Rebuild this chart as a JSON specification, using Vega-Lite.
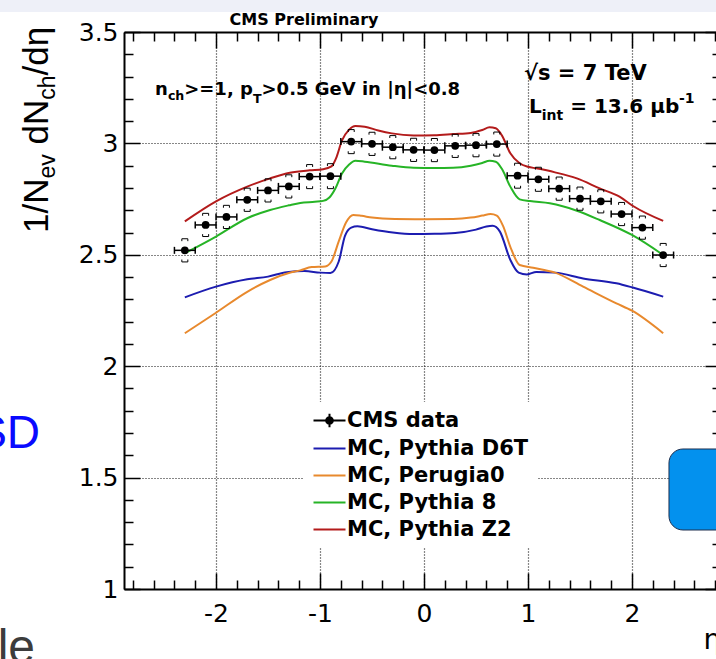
{
"$schema": "https://vega.github.io/schema/vega-lite/v6.json",
"width": 592,
"height": 557,
"autosize": "none",
"padding": {"left": 124, "top": 32, "right": 0, "bottom": 70},
"background": "white",
"config": {
  "view": {"stroke": null},
  "axis": {"domainColor": "black", "domainWidth": 2, "tickColor": "black", "tickWidth": 1.5, "labelColor": "black", "labelFont": "DejaVu Sans", "labelFontSize": 25, "labelOverlap": false, "labelFlush": false, "gridColor": "#111111", "gridDash": [1, 2], "gridWidth": 1.2}
},
"datasets": {
  "cms": [
    {"eta": -2.3, "lo": -2.4, "hi": -2.2, "y": 2.520, "shi": 2.572, "slo": 2.468},
    {"eta": -2.1, "lo": -2.2, "hi": -2.0, "y": 2.634, "shi": 2.686, "slo": 2.582},
    {"eta": -1.9, "lo": -2.0, "hi": -1.8, "y": 2.670, "shi": 2.722, "slo": 2.618},
    {"eta": -1.7, "lo": -1.8, "hi": -1.6, "y": 2.747, "shi": 2.799, "slo": 2.695},
    {"eta": -1.5, "lo": -1.6, "hi": -1.4, "y": 2.789, "shi": 2.841, "slo": 2.737},
    {"eta": -1.3, "lo": -1.4, "hi": -1.2, "y": 2.807, "shi": 2.859, "slo": 2.755},
    {"eta": -1.1, "lo": -1.2, "hi": -1.0, "y": 2.851, "shi": 2.905, "slo": 2.797},
    {"eta": -0.9, "lo": -1.0, "hi": -0.8, "y": 2.853, "shi": 2.909, "slo": 2.797},
    {"eta": -0.7, "lo": -0.8, "hi": -0.6, "y": 3.008, "shi": 3.062, "slo": 2.954},
    {"eta": -0.5, "lo": -0.6, "hi": -0.4, "y": 2.998, "shi": 3.050, "slo": 2.946},
    {"eta": -0.3, "lo": -0.4, "hi": -0.2, "y": 2.983, "shi": 3.035, "slo": 2.931},
    {"eta": -0.1, "lo": -0.2, "hi": 0.0, "y": 2.971, "shi": 3.023, "slo": 2.919},
    {"eta": 0.1, "lo": 0.0, "hi": 0.2, "y": 2.970, "shi": 3.022, "slo": 2.918},
    {"eta": 0.3, "lo": 0.2, "hi": 0.4, "y": 2.989, "shi": 3.041, "slo": 2.937},
    {"eta": 0.5, "lo": 0.4, "hi": 0.6, "y": 2.992, "shi": 3.044, "slo": 2.940},
    {"eta": 0.7, "lo": 0.6, "hi": 0.8, "y": 2.997, "shi": 3.051, "slo": 2.943},
    {"eta": 0.9, "lo": 0.8, "hi": 1.0, "y": 2.855, "shi": 2.911, "slo": 2.799},
    {"eta": 1.1, "lo": 1.0, "hi": 1.2, "y": 2.839, "shi": 2.893, "slo": 2.785},
    {"eta": 1.3, "lo": 1.2, "hi": 1.4, "y": 2.797, "shi": 2.849, "slo": 2.745},
    {"eta": 1.5, "lo": 1.4, "hi": 1.6, "y": 2.752, "shi": 2.804, "slo": 2.700},
    {"eta": 1.7, "lo": 1.6, "hi": 1.8, "y": 2.740, "shi": 2.792, "slo": 2.688},
    {"eta": 1.9, "lo": 1.8, "hi": 2.0, "y": 2.683, "shi": 2.735, "slo": 2.631},
    {"eta": 2.1, "lo": 2.0, "hi": 2.2, "y": 2.622, "shi": 2.674, "slo": 2.570},
    {"eta": 2.3, "lo": 2.2, "hi": 2.4, "y": 2.499, "shi": 2.551, "slo": 2.447}
  ],
  "curves": [
    {"series": "MC, Pythia D6T", "eta": -2.3, "v": 2.309},
    {"series": "MC, Pythia D6T", "eta": -2.0, "v": 2.357},
    {"series": "MC, Pythia D6T", "eta": -1.7, "v": 2.390},
    {"series": "MC, Pythia D6T", "eta": -1.5, "v": 2.402},
    {"series": "MC, Pythia D6T", "eta": -1.32, "v": 2.422},
    {"series": "MC, Pythia D6T", "eta": -1.15, "v": 2.427},
    {"series": "MC, Pythia D6T", "eta": -1.0, "v": 2.420},
    {"series": "MC, Pythia D6T", "eta": -0.9, "v": 2.418},
    {"series": "MC, Pythia D6T", "eta": -0.82, "v": 2.470},
    {"series": "MC, Pythia D6T", "eta": -0.76, "v": 2.585},
    {"series": "MC, Pythia D6T", "eta": -0.7, "v": 2.622},
    {"series": "MC, Pythia D6T", "eta": -0.64, "v": 2.628},
    {"series": "MC, Pythia D6T", "eta": -0.5, "v": 2.615},
    {"series": "MC, Pythia D6T", "eta": -0.3, "v": 2.600},
    {"series": "MC, Pythia D6T", "eta": -0.1, "v": 2.593},
    {"series": "MC, Pythia D6T", "eta": 0.1, "v": 2.594},
    {"series": "MC, Pythia D6T", "eta": 0.3, "v": 2.598},
    {"series": "MC, Pythia D6T", "eta": 0.5, "v": 2.613},
    {"series": "MC, Pythia D6T", "eta": 0.6, "v": 2.627},
    {"series": "MC, Pythia D6T", "eta": 0.66, "v": 2.630},
    {"series": "MC, Pythia D6T", "eta": 0.73, "v": 2.604},
    {"series": "MC, Pythia D6T", "eta": 0.83, "v": 2.477},
    {"series": "MC, Pythia D6T", "eta": 0.91, "v": 2.420},
    {"series": "MC, Pythia D6T", "eta": 0.99, "v": 2.412},
    {"series": "MC, Pythia D6T", "eta": 1.08, "v": 2.423},
    {"series": "MC, Pythia D6T", "eta": 1.26, "v": 2.420},
    {"series": "MC, Pythia D6T", "eta": 1.53, "v": 2.394},
    {"series": "MC, Pythia D6T", "eta": 1.85, "v": 2.372},
    {"series": "MC, Pythia D6T", "eta": 2.0, "v": 2.354},
    {"series": "MC, Pythia D6T", "eta": 2.3, "v": 2.312},
    {"series": "MC, Perugia0", "eta": -2.3, "v": 2.148},
    {"series": "MC, Perugia0", "eta": -2.0, "v": 2.240},
    {"series": "MC, Perugia0", "eta": -1.7, "v": 2.334},
    {"series": "MC, Perugia0", "eta": -1.48, "v": 2.387},
    {"series": "MC, Perugia0", "eta": -1.3, "v": 2.418},
    {"series": "MC, Perugia0", "eta": -1.19, "v": 2.430},
    {"series": "MC, Perugia0", "eta": -1.08, "v": 2.445},
    {"series": "MC, Perugia0", "eta": -0.95, "v": 2.448},
    {"series": "MC, Perugia0", "eta": -0.89, "v": 2.470},
    {"series": "MC, Perugia0", "eta": -0.82, "v": 2.560},
    {"series": "MC, Perugia0", "eta": -0.75, "v": 2.645},
    {"series": "MC, Perugia0", "eta": -0.68, "v": 2.679},
    {"series": "MC, Perugia0", "eta": -0.6, "v": 2.675},
    {"series": "MC, Perugia0", "eta": -0.5, "v": 2.667},
    {"series": "MC, Perugia0", "eta": -0.28, "v": 2.661},
    {"series": "MC, Perugia0", "eta": 0.0, "v": 2.660},
    {"series": "MC, Perugia0", "eta": 0.28, "v": 2.661},
    {"series": "MC, Perugia0", "eta": 0.45, "v": 2.667},
    {"series": "MC, Perugia0", "eta": 0.56, "v": 2.676},
    {"series": "MC, Perugia0", "eta": 0.64, "v": 2.683},
    {"series": "MC, Perugia0", "eta": 0.7, "v": 2.676},
    {"series": "MC, Perugia0", "eta": 0.76, "v": 2.630},
    {"series": "MC, Perugia0", "eta": 0.83, "v": 2.536},
    {"series": "MC, Perugia0", "eta": 0.92, "v": 2.454},
    {"series": "MC, Perugia0", "eta": 1.05, "v": 2.442},
    {"series": "MC, Perugia0", "eta": 1.26, "v": 2.420},
    {"series": "MC, Perugia0", "eta": 1.53, "v": 2.357},
    {"series": "MC, Perugia0", "eta": 1.85, "v": 2.282},
    {"series": "MC, Perugia0", "eta": 2.0, "v": 2.249},
    {"series": "MC, Perugia0", "eta": 2.3, "v": 2.148},
    {"series": "MC, Pythia 8", "eta": -2.3, "v": 2.507},
    {"series": "MC, Pythia 8", "eta": -2.0, "v": 2.582},
    {"series": "MC, Pythia 8", "eta": -1.7, "v": 2.664},
    {"series": "MC, Pythia 8", "eta": -1.48, "v": 2.701},
    {"series": "MC, Pythia 8", "eta": -1.3, "v": 2.722},
    {"series": "MC, Pythia 8", "eta": -1.19, "v": 2.733},
    {"series": "MC, Pythia 8", "eta": -1.05, "v": 2.738},
    {"series": "MC, Pythia 8", "eta": -0.97, "v": 2.742},
    {"series": "MC, Pythia 8", "eta": -0.91, "v": 2.757},
    {"series": "MC, Pythia 8", "eta": -0.85, "v": 2.800},
    {"series": "MC, Pythia 8", "eta": -0.79, "v": 2.864},
    {"series": "MC, Pythia 8", "eta": -0.72, "v": 2.905},
    {"series": "MC, Pythia 8", "eta": -0.66, "v": 2.922},
    {"series": "MC, Pythia 8", "eta": -0.57, "v": 2.918},
    {"series": "MC, Pythia 8", "eta": -0.31, "v": 2.900},
    {"series": "MC, Pythia 8", "eta": -0.1, "v": 2.891},
    {"series": "MC, Pythia 8", "eta": 0.1, "v": 2.890},
    {"series": "MC, Pythia 8", "eta": 0.28, "v": 2.891},
    {"series": "MC, Pythia 8", "eta": 0.45, "v": 2.900},
    {"series": "MC, Pythia 8", "eta": 0.56, "v": 2.912},
    {"series": "MC, Pythia 8", "eta": 0.63, "v": 2.922},
    {"series": "MC, Pythia 8", "eta": 0.69, "v": 2.918},
    {"series": "MC, Pythia 8", "eta": 0.75, "v": 2.885},
    {"series": "MC, Pythia 8", "eta": 0.83, "v": 2.806},
    {"series": "MC, Pythia 8", "eta": 0.92, "v": 2.749},
    {"series": "MC, Pythia 8", "eta": 1.02, "v": 2.741},
    {"series": "MC, Pythia 8", "eta": 1.21, "v": 2.731},
    {"series": "MC, Pythia 8", "eta": 1.47, "v": 2.698},
    {"series": "MC, Pythia 8", "eta": 1.69, "v": 2.656},
    {"series": "MC, Pythia 8", "eta": 2.0, "v": 2.589},
    {"series": "MC, Pythia 8", "eta": 2.3, "v": 2.499},
    {"series": "MC, Pythia Z2", "eta": -2.3, "v": 2.650},
    {"series": "MC, Pythia Z2", "eta": -2.0, "v": 2.740},
    {"series": "MC, Pythia Z2", "eta": -1.7, "v": 2.806},
    {"series": "MC, Pythia Z2", "eta": -1.48, "v": 2.843},
    {"series": "MC, Pythia Z2", "eta": -1.29, "v": 2.868},
    {"series": "MC, Pythia Z2", "eta": -1.1, "v": 2.879},
    {"series": "MC, Pythia Z2", "eta": -0.97, "v": 2.884},
    {"series": "MC, Pythia Z2", "eta": -0.89, "v": 2.897},
    {"series": "MC, Pythia Z2", "eta": -0.84, "v": 2.940},
    {"series": "MC, Pythia Z2", "eta": -0.79, "v": 3.012},
    {"series": "MC, Pythia Z2", "eta": -0.72, "v": 3.062},
    {"series": "MC, Pythia Z2", "eta": -0.66, "v": 3.078},
    {"series": "MC, Pythia Z2", "eta": -0.57, "v": 3.075},
    {"series": "MC, Pythia Z2", "eta": -0.44, "v": 3.058},
    {"series": "MC, Pythia Z2", "eta": -0.31, "v": 3.045},
    {"series": "MC, Pythia Z2", "eta": -0.1, "v": 3.036},
    {"series": "MC, Pythia Z2", "eta": 0.1, "v": 3.037},
    {"series": "MC, Pythia Z2", "eta": 0.28, "v": 3.042},
    {"series": "MC, Pythia Z2", "eta": 0.45, "v": 3.047},
    {"series": "MC, Pythia Z2", "eta": 0.56, "v": 3.060},
    {"series": "MC, Pythia Z2", "eta": 0.63, "v": 3.072},
    {"series": "MC, Pythia Z2", "eta": 0.69, "v": 3.068},
    {"series": "MC, Pythia Z2", "eta": 0.75, "v": 3.035},
    {"series": "MC, Pythia Z2", "eta": 0.83, "v": 2.956},
    {"series": "MC, Pythia Z2", "eta": 0.92, "v": 2.911},
    {"series": "MC, Pythia Z2", "eta": 1.0, "v": 2.895},
    {"series": "MC, Pythia Z2", "eta": 1.08, "v": 2.888},
    {"series": "MC, Pythia Z2", "eta": 1.26, "v": 2.870},
    {"series": "MC, Pythia Z2", "eta": 1.47, "v": 2.843},
    {"series": "MC, Pythia Z2", "eta": 1.69, "v": 2.798},
    {"series": "MC, Pythia Z2", "eta": 1.88, "v": 2.761},
    {"series": "MC, Pythia Z2", "eta": 2.01, "v": 2.719},
    {"series": "MC, Pythia Z2", "eta": 2.3, "v": 2.652}
  ]
},
"layer": [
  {
    "data": {"values": [{}]},
    "mark": {"type": "rect", "color": "#eef0f8"},
    "encoding": {
      "x": {"datum": -4.3, "type": "quantitative", "axis": null},
      "x2": {"datum": 3.2},
      "y": {"datum": 3.6436, "type": "quantitative", "axis": null},
      "y2": {"datum": 3.5898}
    }
  },
  {
    "data": {"name": "curves"},
    "mark": {"type": "line", "strokeWidth": 2, "interpolate": "monotone"},
    "encoding": {
      "x": {"field": "eta", "type": "quantitative",
        "scale": {"domain": [-2.885, 2.808], "nice": false, "zero": false},
        "axis": {"orient": "bottom",
          "values": [-2.8, -2.6, -2.4, -2.2, -2, -1.8, -1.6, -1.4, -1.2, -1, -0.8, -0.6, -0.4, -0.2, 0, 0.2, 0.4, 0.6, 0.8, 1, 1.2, 1.4, 1.6, 1.8, 2, 2.2, 2.4, 2.6, 2.8],
          "tickSize": {"condition": {"test": "datum.value % 1 === 0", "value": -16}, "value": -9},
          "labelExpr": "datum.value % 1 === 0 ? '' + datum.value : ''",
          "labelPadding": 28,
          "grid": true,
          "gridOpacity": {"condition": {"test": "datum.value % 1 === 0", "value": 1}, "value": 0},
          "title": "η", "titleFont": "DejaVu Sans", "titleFontSize": 28, "titleFontWeight": "normal", "titleColor": "black",
          "titleX": 579, "titleY": 59, "titleAlign": "left", "titleBaseline": "alphabetic"}},
      "y": {"field": "v", "type": "quantitative",
        "scale": {"domain": [1, 3.5], "nice": false, "zero": false},
        "axis": {"orient": "left",
          "values": [1, 1.1, 1.2, 1.3, 1.4, 1.5, 1.6, 1.7, 1.8, 1.9, 2, 2.1, 2.2, 2.3, 2.4, 2.5, 2.6, 2.7, 2.8, 2.9, 3, 3.1, 3.2, 3.3, 3.4, 3.5],
          "tickSize": {"condition": {"test": "(datum.value * 2) % 1 === 0", "value": -16}, "value": -9},
          "labelExpr": "(datum.value * 2) % 1 === 0 ? '' + datum.value : ''",
          "labelPadding": 22,
          "grid": true,
          "gridOpacity": {"condition": {"test": "(datum.value * 2) % 1 === 0", "value": 1}, "value": 0},
          "title": null}},
      "color": {"field": "series", "type": "nominal",
        "scale": {"domain": ["CMS data", "MC, Pythia D6T", "MC, Perugia0", "MC, Pythia 8", "MC, Pythia Z2"],
                  "range": ["#000000", "#1c1cb0", "#e8892d", "#26b426", "#b31b1b"]},
        "legend": {"title": null, "orient": "none", "legendX": 179, "legendY": 370, "direction": "vertical",
          "fillColor": "white", "padding": 8, "rowPadding": 5,
          "symbolType": "M-2,0H2", "symbolSize": 256, "symbolStrokeWidth": 2, "symbolOffset": 8,
          "labelOffset": 7, "labelFont": "DejaVu Sans", "labelFontWeight": "bold", "labelFontSize": 21, "labelColor": "black", "labelLimit": 400,
          "encode": {"symbols": {"update": {
            "shape": {"signal": "datum.value === 'CMS data' ? 'M-2,0H2M0,-0.85V0.85M0.42,0A0.42,0.42,0,1,1,-0.42,0A0.42,0.42,0,1,1,0.42,0Z' : 'M-2,0H2'"},
            "fill": {"signal": "datum.value === 'CMS data' ? 'black' : 'transparent'"}}}}}}
    }
  },
  {
    "data": {"name": "cms"},
    "mark": {"type": "rule", "color": "black", "strokeWidth": 1.5},
    "encoding": {
      "x": {"field": "lo", "type": "quantitative", "axis": null},
      "x2": {"field": "hi"},
      "y": {"field": "y", "type": "quantitative", "axis": null}
    }
  },
  {
    "data": {"name": "cms"},
    "mark": {"type": "point", "shape": "M0,-1V1", "size": 49, "filled": false, "color": "black", "strokeWidth": 1.5, "opacity": 1},
    "encoding": {
      "x": {"field": "lo", "type": "quantitative", "axis": null},
      "y": {"field": "y", "type": "quantitative", "axis": null}
    }
  },
  {
    "data": {"name": "cms"},
    "mark": {"type": "point", "shape": "M0,-1V1", "size": 49, "filled": false, "color": "black", "strokeWidth": 1.5, "opacity": 1},
    "encoding": {
      "x": {"field": "hi", "type": "quantitative", "axis": null},
      "y": {"field": "y", "type": "quantitative", "axis": null}
    }
  },
  {
    "data": {"name": "cms"},
    "mark": {"type": "point", "shape": "M-1,0.8V0H1V0.8", "size": 36, "filled": false, "color": "black", "strokeWidth": 1, "opacity": 1},
    "encoding": {
      "x": {"field": "eta", "type": "quantitative", "axis": null},
      "y": {"field": "shi", "type": "quantitative", "axis": null}
    }
  },
  {
    "data": {"name": "cms"},
    "mark": {"type": "point", "shape": "M-1,-0.8V0H1V-0.8", "size": 36, "filled": false, "color": "black", "strokeWidth": 1, "opacity": 1},
    "encoding": {
      "x": {"field": "eta", "type": "quantitative", "axis": null},
      "y": {"field": "slo", "type": "quantitative", "axis": null}
    }
  },
  {
    "data": {"name": "cms"},
    "mark": {"type": "point", "shape": "circle", "filled": true, "size": 60, "color": "black", "opacity": 1},
    "encoding": {
      "x": {"field": "eta", "type": "quantitative", "axis": null},
      "y": {"field": "y", "type": "quantitative", "axis": null}
    }
  },
  {
    "data": {"values": [{}]},
    "mark": {"type": "text", "text": "CMS Preliminary", "font": "DejaVu Sans", "fontWeight": "bold", "fontSize": 16, "align": "center", "baseline": "alphabetic", "color": "black"},
    "encoding": {"x": {"datum": -1.1538, "type": "quantitative", "axis": null}, "y": {"datum": 3.5292, "type": "quantitative", "axis": null}}
  },
  {
    "data": {"values": [{}]},
    "mark": {"type": "text", "text": "1/N", "font": "Liberation Sans", "fontSize": 35, "angle": 270, "align": "left", "baseline": "alphabetic", "color": "black"},
    "encoding": {"x": {"datum": -3.6154, "type": "quantitative", "axis": null}, "y": {"datum": 2.5978, "type": "quantitative", "axis": null}}
  },
  {
    "data": {"values": [{}]},
    "mark": {"type": "text", "text": "ev", "font": "Liberation Sans", "fontSize": 23, "angle": 270, "align": "left", "baseline": "alphabetic", "color": "black"},
    "encoding": {"x": {"datum": -3.548, "type": "quantitative", "axis": null}, "y": {"datum": 2.8425, "type": "quantitative", "axis": null}}
  },
  {
    "data": {"values": [{}]},
    "mark": {"type": "text", "text": "dN", "font": "Liberation Sans", "fontSize": 35, "angle": 270, "align": "left", "baseline": "alphabetic", "color": "black"},
    "encoding": {"x": {"datum": -3.6154, "type": "quantitative", "axis": null}, "y": {"datum": 2.9951, "type": "quantitative", "axis": null}}
  },
  {
    "data": {"values": [{}]},
    "mark": {"type": "text", "text": "ch", "font": "Liberation Sans", "fontSize": 23, "angle": 270, "align": "left", "baseline": "alphabetic", "color": "black"},
    "encoding": {"x": {"datum": -3.548, "type": "quantitative", "axis": null}, "y": {"datum": 3.1957, "type": "quantitative", "axis": null}}
  },
  {
    "data": {"values": [{}]},
    "mark": {"type": "text", "text": "/dη", "font": "Liberation Sans", "fontSize": 35, "angle": 270, "align": "left", "baseline": "alphabetic", "color": "black"},
    "encoding": {"x": {"datum": -3.6154, "type": "quantitative", "axis": null}, "y": {"datum": 3.3048, "type": "quantitative", "axis": null}}
  },
  {
    "data": {"values": [{}]},
    "mark": {"type": "text", "text": "n", "font": "DejaVu Sans", "fontWeight": "bold", "fontSize": 18, "align": "left", "baseline": "alphabetic", "color": "black"},
    "encoding": {"x": {"datum": -2.587, "type": "quantitative", "axis": null}, "y": {"datum": 3.2172, "type": "quantitative", "axis": null}}
  },
  {
    "data": {"values": [{}]},
    "mark": {"type": "text", "text": "ch", "font": "DejaVu Sans", "fontWeight": "bold", "fontSize": 12.6, "align": "left", "baseline": "alphabetic", "color": "black"},
    "encoding": {"x": {"datum": -2.463, "type": "quantitative", "axis": null}, "y": {"datum": 3.1948, "type": "quantitative", "axis": null}}
  },
  {
    "data": {"values": [{}]},
    "mark": {"type": "text", "text": ">=1, p", "font": "DejaVu Sans", "fontWeight": "bold", "fontSize": 18, "align": "left", "baseline": "alphabetic", "color": "black"},
    "encoding": {"x": {"datum": -2.306, "type": "quantitative", "axis": null}, "y": {"datum": 3.2172, "type": "quantitative", "axis": null}}
  },
  {
    "data": {"values": [{}]},
    "mark": {"type": "text", "text": "T", "font": "DejaVu Sans", "fontWeight": "bold", "fontSize": 12.6, "align": "left", "baseline": "alphabetic", "color": "black"},
    "encoding": {"x": {"datum": -1.645, "type": "quantitative", "axis": null}, "y": {"datum": 3.1813, "type": "quantitative", "axis": null}}
  },
  {
    "data": {"values": [{}]},
    "mark": {"type": "text", "text": ">0.5 GeV in |η|<0.8", "font": "DejaVu Sans", "fontWeight": "bold", "fontSize": 18, "align": "left", "baseline": "alphabetic", "color": "black"},
    "encoding": {"x": {"datum": -1.5625, "type": "quantitative", "axis": null}, "y": {"datum": 3.2172, "type": "quantitative", "axis": null}}
  },
  {
    "data": {"values": [{}]},
    "mark": {"type": "text", "text": "√s = 7 TeV", "font": "DejaVu Sans", "fontWeight": "bold", "fontSize": 21, "align": "left", "baseline": "alphabetic", "color": "black"},
    "encoding": {"x": {"datum": 0.9615, "type": "quantitative", "axis": null}, "y": {"datum": 3.2846, "type": "quantitative", "axis": null}}
  },
  {
    "data": {"values": [{}]},
    "mark": {"type": "text", "text": "L", "font": "DejaVu Sans", "fontWeight": "bold", "fontSize": 20, "align": "left", "baseline": "alphabetic", "color": "black"},
    "encoding": {"x": {"datum": 1.0096, "type": "quantitative", "axis": null}, "y": {"datum": 3.1364, "type": "quantitative", "axis": null}}
  },
  {
    "data": {"values": [{}]},
    "mark": {"type": "text", "text": "int", "font": "DejaVu Sans", "fontWeight": "bold", "fontSize": 14, "align": "left", "baseline": "alphabetic", "color": "black"},
    "encoding": {"x": {"datum": 1.1317, "type": "quantitative", "axis": null}, "y": {"datum": 3.105, "type": "quantitative", "axis": null}}
  },
  {
    "data": {"values": [{}]},
    "mark": {"type": "text", "text": "= 13.6 μb", "font": "DejaVu Sans", "fontWeight": "bold", "fontSize": 20, "align": "left", "baseline": "alphabetic", "color": "black"},
    "encoding": {"x": {"datum": 1.4058, "type": "quantitative", "axis": null}, "y": {"datum": 3.1364, "type": "quantitative", "axis": null}}
  },
  {
    "data": {"values": [{}]},
    "mark": {"type": "text", "text": "-1", "font": "DejaVu Sans", "fontWeight": "bold", "fontSize": 14, "align": "left", "baseline": "alphabetic", "color": "black"},
    "encoding": {"x": {"datum": 2.451, "type": "quantitative", "axis": null}, "y": {"datum": 3.181, "type": "quantitative", "axis": null}}
  },
  {
    "data": {"values": [{}]},
    "mark": {"type": "text", "text": "SD", "font": "Liberation Sans", "fontSize": 46, "align": "right", "baseline": "alphabetic", "color": "#0a0aff"},
    "encoding": {"x": {"datum": -3.6923, "type": "quantitative", "axis": null}, "y": {"datum": 1.6329, "type": "quantitative", "axis": null}}
  },
  {
    "data": {"values": [{}]},
    "mark": {"type": "text", "text": "le", "font": "Liberation Sans", "fontSize": 48, "align": "right", "baseline": "alphabetic", "color": "#3c3c3c"},
    "encoding": {"x": {"datum": -3.7404, "type": "quantitative", "axis": null}, "y": {"datum": 0.668, "type": "quantitative", "axis": null}}
  },
  {
    "data": {"values": [{}]},
    "mark": {"type": "rect", "color": "#0391ee", "stroke": "#1f2f4f", "strokeWidth": 1, "cornerRadius": 14},
    "encoding": {
      "x": {"datum": 2.3558, "type": "quantitative", "axis": null},
      "x2": {"datum": 3.2},
      "y": {"datum": 1.6284, "type": "quantitative", "axis": null},
      "y2": {"datum": 1.2648}
    }
  },
  {
    "data": {"name": "cms"},
    "mark": {"type": "point", "opacity": 0},
    "encoding": {
      "x": {"field": "eta", "type": "quantitative",
        "scale": {"domain": [-2.885, 2.808], "nice": false, "zero": false},
        "axis": {"orient": "top",
          "values": [-2.8, -2.6, -2.4, -2.2, -2, -1.8, -1.6, -1.4, -1.2, -1, -0.8, -0.6, -0.4, -0.2, 0, 0.2, 0.4, 0.6, 0.8, 1, 1.2, 1.4, 1.6, 1.8, 2, 2.2, 2.4, 2.6, 2.8],
          "tickSize": {"condition": {"test": "datum.value % 1 === 0", "value": -16}, "value": -9},
          "labels": false, "grid": false, "domain": true, "title": null}},
      "y": {"field": "y", "type": "quantitative",
        "scale": {"domain": [1, 3.5], "nice": false, "zero": false},
        "axis": {"orient": "right",
          "values": [1, 1.1, 1.2, 1.3, 1.4, 1.5, 1.6, 1.7, 1.8, 1.9, 2, 2.1, 2.2, 2.3, 2.4, 2.5, 2.6, 2.7, 2.8, 2.9, 3, 3.1, 3.2, 3.3, 3.4, 3.5],
          "tickSize": {"condition": {"test": "(datum.value * 2) % 1 === 0", "value": -11}, "value": -4},
          "labels": false, "grid": false, "domain": false, "title": null}}
    }
  }
],
"resolve": {"axis": {"x": "independent", "y": "independent"}}
}
